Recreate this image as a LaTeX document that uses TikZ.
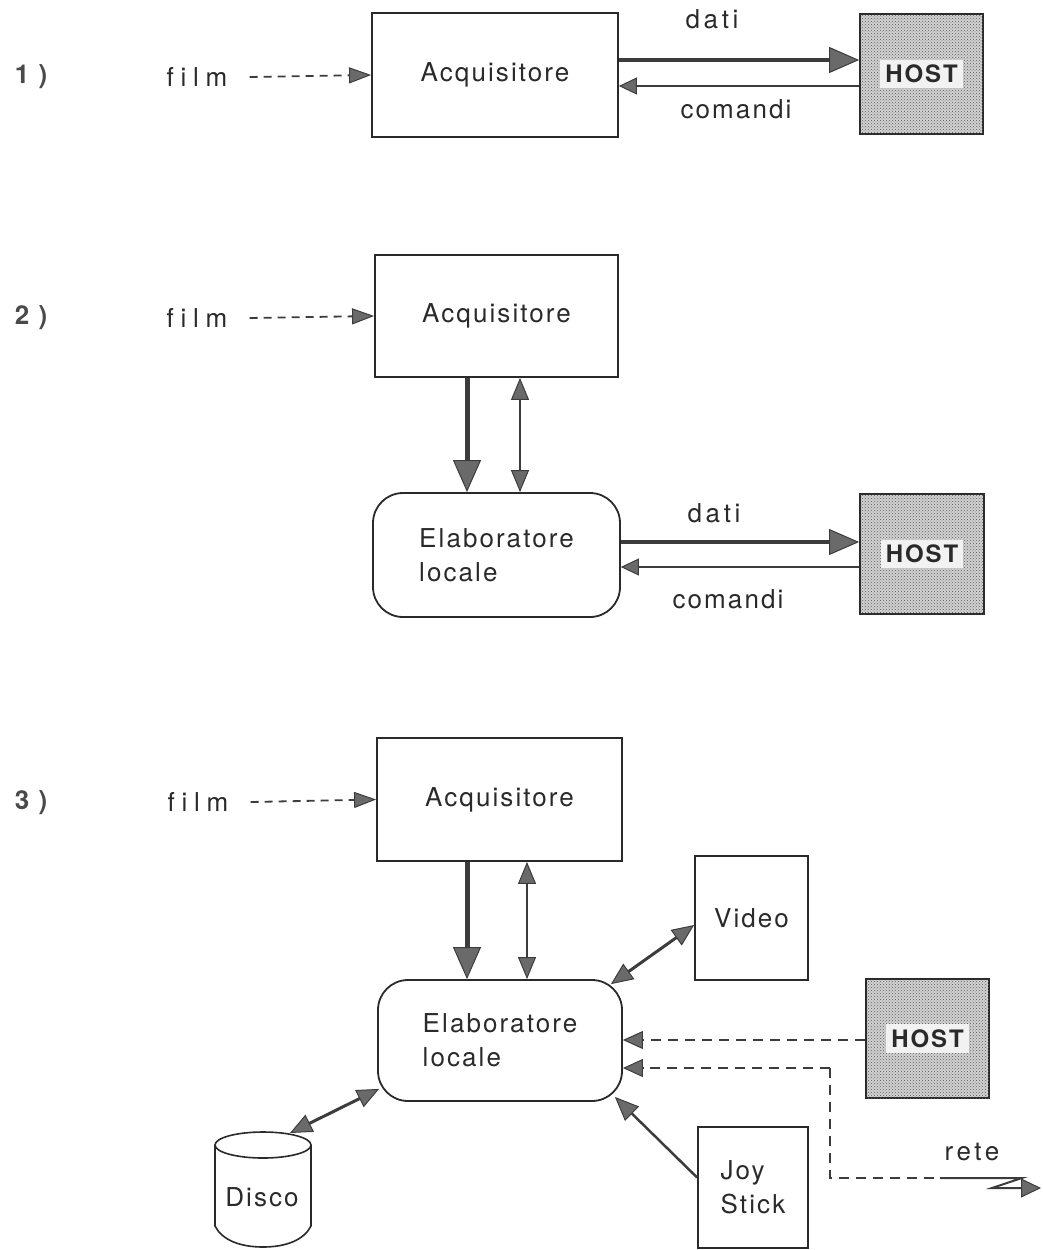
\documentclass[tikz,border=0pt]{standalone}
\usepackage{fontspec}
\setmainfont{TeX Gyre Heros}[LetterSpace=8, Ligatures=NoCommon]
\newfontfamily\spreadfont{TeX Gyre Heros}[LetterSpace=14, Ligatures=NoCommon]
\newfontfamily\widefont{TeX Gyre Heros}[LetterSpace=26, Ligatures=NoCommon]
\usetikzlibrary{arrows.meta,calc,patterns}
\definecolor{ink}{HTML}{2A2A2A}
\definecolor{wire}{HTML}{3C3C3C}
\definecolor{tipgray}{HTML}{6A6A6A}
\definecolor{hostgray}{HTML}{D2D2D2}
\begin{document}
\begin{tikzpicture}[x=1pt,y=-1pt,
  txt/.style={font=\fontsize{26}{34}\selectfont, text=ink, inner sep=0pt},
  numtext/.style={font=\fontsize{26}{34}\selectfont\bfseries, text=ink!85, inner sep=0pt},
  widetext/.style={font=\fontsize{26}{34}\selectfont\widefont, text=ink, inner sep=0pt},
  spreadtext/.style={font=\fontsize{26}{34}\selectfont\spreadfont, text=ink, inner sep=0pt},
  block/.style={txt, draw=ink, line width=1.8pt, fill=white},
  proc/.style={block, rounded corners=30pt, align=left},
  hostbox/.style={draw=ink, line width=1.8pt, fill=hostgray,
    postaction={pattern=crosshatch dots, pattern color=gray!70!black}},
  hostlabel/.style={fill=white!95!black, inner xsep=5pt, inner ysep=5pt,
    font=\fontsize{24}{28}\selectfont\bfseries, text=ink},
  dataline/.style={draw=wire, line width=4.5pt,
    -{Triangle[length=30pt,width=26pt,fill=tipgray,line width=1pt]}},
  cmdline/.style={draw=wire, line width=2pt,
    -{Triangle[length=18pt,width=17pt,fill=tipgray,line width=1pt]}},
  feed/.style={draw=wire, line width=1.8pt, dash pattern=on 8pt off 6pt,
    -{Triangle[length=22pt,width=16pt,fill=tipgray,line width=1pt]}},
  busdown/.style={draw=wire, line width=5pt,
    -{Triangle[length=32pt,width=28pt,fill=tipgray,line width=1pt]}},
  both/.style={draw=wire, line width=2pt,
    {Triangle[length=22pt,width=18pt,fill=tipgray,line width=1pt]}-{Triangle[length=22pt,width=18pt,fill=tipgray,line width=1pt]}},
  periph/.style={draw=wire, line width=3pt,
    {Triangle[length=22pt,width=19pt,fill=tipgray,line width=1pt]}-{Triangle[length=22pt,width=19pt,fill=tipgray,line width=1pt]}},
  joyline/.style={draw=wire, line width=2.5pt,
    -{Triangle[length=24pt,width=20pt,fill=tipgray,line width=1pt]}},
  hostfeed/.style={draw=wire, line width=1.8pt, dash pattern=on 10pt off 7pt,
    -{Triangle[length=20pt,width=18pt,fill=tipgray,line width=1pt]}},
  netdash/.style={draw=wire, line width=1.8pt, dash pattern=on 10pt off 7pt},
  netwire/.style={draw=wire, line width=2pt, line join=miter,
    -{Triangle[length=20pt,width=19pt,fill=tipgray,line width=1pt]}},
]
\useasboundingbox (0,0) rectangle (1043,1250);

% ---------- 1) acquisition unit talking straight to the host ----------
\node[numtext] (num1) at (31,77) {1 )};
\node[widetext] (film1) at (197,77) {film};
\node[block, minimum width=246pt, minimum height=124pt] (acq1) at (495,75) {Acquisitore};
\node[hostbox, minimum width=123pt, minimum height=120pt] (host1) at (921.5,74) {};
\node[hostlabel] (host1t) at (host1) {HOST};
\node[spreadtext, anchor=base] (dati1) at (712,28) {dati};
\node[txt, anchor=base] (cmd1) at (736,118) {comandi};
\coordinate (r1d) at (0,60);
\coordinate (r1c) at (0,86);
\draw[feed] ([xshift=22pt]film1.east) -- (acq1.west);
\draw[dataline] (acq1.east |- r1d) -- (host1.west |- r1d);
\draw[cmdline] (host1.west |- r1c) -- (acq1.east |- r1c);

% ---------- 2) local processor between acquisition and host ----------
\node[numtext] (num2) at (31,318) {2 )};
\node[widetext] (film2) at (197,318) {film};
\node[block, minimum width=243pt, minimum height=122pt] (acq2) at (496.5,316) {Acquisitore};
\node[proc, minimum width=247pt, minimum height=124pt] (elab2) at (496.5,555) {Elaboratore\\locale};
\node[hostbox, minimum width=124pt, minimum height=120pt] (host2) at (922,554) {};
\node[hostlabel] (host2t) at (host2) {HOST};
\node[spreadtext, anchor=base] (dati2) at (714,522) {dati};
\node[txt, anchor=base] (cmd2) at (728,608) {comandi};
\coordinate (r2d) at (0,542);
\coordinate (r2c) at (0,567);
\coordinate (c2a) at (467,0);
\coordinate (c2b) at (520,0);
\draw[feed] ([xshift=22pt]film2.east) -- (acq2.west);
\draw[busdown] (acq2.south -| c2a) -- (elab2.north -| c2a);
\draw[both] (acq2.south -| c2b) -- (elab2.north -| c2b);
\draw[dataline] (elab2.east |- r2d) -- (host2.west |- r2d);
\draw[cmdline] (host2.west |- r2c) -- (elab2.east |- r2c);

% ---------- 3) stand-alone workstation with peripherals ----------
\node[numtext] (num3) at (31,803) {3 )};
\node[widetext] (film3) at (198,802) {film};
\node[block, minimum width=245pt, minimum height=123pt] (acq3) at (499.5,799.5) {Acquisitore};
\node[proc, minimum width=244pt, minimum height=121pt] (elab3) at (500,1040.5) {Elaboratore\\locale};
\node[block, minimum width=113pt, minimum height=124pt] (video) at (751.5,918) {Video};
\node[hostbox, minimum width=123pt, minimum height=119pt] (host3) at (927.5,1038.5) {};
\node[hostlabel] (host3t) at (host3) {HOST};
\node[block, align=left, minimum width=110pt, minimum height=121pt] (joy) at (753,1187.5) {Joy\\Stick};
\node[spreadtext, anchor=base] (rete) at (972,1160) {rete};

% disk drawn as a cylinder
\draw[ink, line width=1.6pt, fill=white]
  (215,1145) -- (215,1226) .. controls (222,1240) and (240,1247) .. (263,1247)
  .. controls (286,1247) and (304,1240) .. (311,1226) -- (311,1145);
\draw[ink, line width=1.6pt, fill=white] (263,1145) ellipse [x radius=48, y radius=13];
\node[txt] (disco) at (262,1197) {Disco};
\coordinate (discotop) at (290,1133);

\coordinate (c3a) at (467,0);
\coordinate (c3b) at (527,0);
\coordinate (r3h) at (0,1040);
\coordinate (bend1) at (830,1068);
\coordinate (bend2) at (830,1178);
\coordinate (dashend) at (940,1178);
\coordinate (zz1) at (1022,1178);
\coordinate (zz2) at (992,1188);
\coordinate (netend) at (1041,1188);

\draw[feed] ([xshift=22pt]film3.east) -- (acq3.west);
\draw[busdown] (acq3.south -| c3a) -- (elab3.north -| c3a);
\draw[both] (acq3.south -| c3b) -- (elab3.north -| c3b);
\draw[periph] ([shift={(-12pt,-5pt)}]elab3.north east) -- ([yshift=-7pt]video.west);
\draw[periph] (discotop) -- ([shift={(2pt,13pt)}]elab3.south west);
\draw[hostfeed] (host3.west |- r3h) -- (elab3.east |- r3h);
\draw[hostfeed] (bend1) -- (elab3.east |- bend1);
\draw[netdash] (bend1) -- (bend2) -- (dashend);
\draw[netwire] (dashend) -- (zz1) -- (zz2) -- (netend);
\draw[joyline] ([yshift=10pt]joy.west) -- ([shift={(-8pt,5pt)}]elab3.south east);
\end{tikzpicture}
\end{document}
